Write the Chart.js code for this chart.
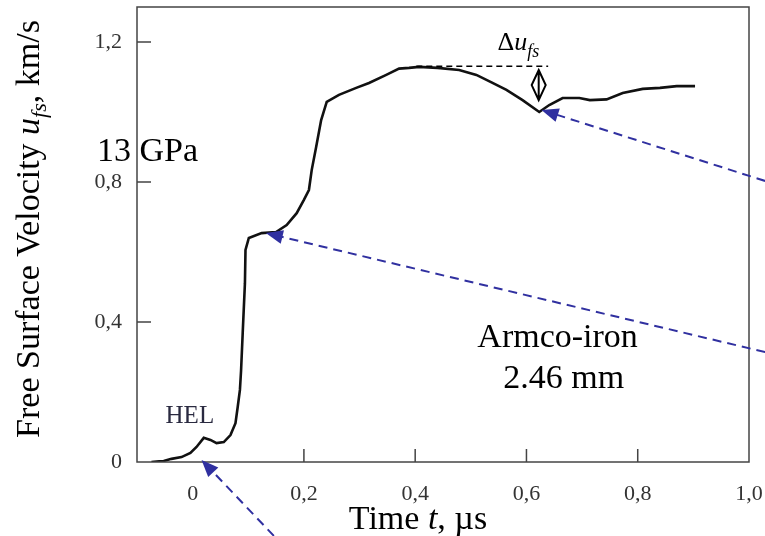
<!DOCTYPE html>
<html>
<head>
<meta charset="utf-8">
<script src="https://cdn.jsdelivr.net/npm/chart.js@4"></script>
<style>
  html, body { margin: 0; padding: 0; background: #fff; }
  #wrap { width: 765px; height: 536px; position: relative; }
</style>
</head>
<body>
<div id="wrap"><canvas id="chart"></canvas></div>
<script>
// Data
const timeValues = [
  -0.074, -0.060, -0.052, -0.038, -0.020, -0.004, 0.007, 0.020, 0.032, 0.043,
  0.056, 0.068, 0.077, 0.081, 0.085, 0.087, 0.090, 0.094, 0.095, 0.101,
  0.124, 0.150, 0.169, 0.187, 0.200, 0.209, 0.214, 0.222, 0.231, 0.241,
  0.263, 0.294, 0.317, 0.348, 0.371, 0.389, 0.407, 0.440, 0.479, 0.510,
  0.539, 0.564, 0.593, 0.623, 0.641, 0.665, 0.695, 0.714, 0.744, 0.773,
  0.809, 0.840, 0.870, 0.903
];
const velocityValues = [
  0.000, 0.002, 0.003, 0.009, 0.014, 0.026, 0.043, 0.069, 0.063, 0.054,
  0.057, 0.077, 0.111, 0.157, 0.206, 0.260, 0.369, 0.511, 0.606, 0.640,
  0.654, 0.657, 0.677, 0.711, 0.749, 0.777, 0.834, 0.900, 0.977, 1.029,
  1.049, 1.069, 1.083, 1.106, 1.124, 1.126, 1.129, 1.126, 1.120, 1.106,
  1.083, 1.063, 1.034, 1.000, 1.020, 1.040, 1.040, 1.034, 1.036, 1.054,
  1.066, 1.069, 1.074, 1.074
];
const xTickValues = [0, 0.2, 0.4, 0.6, 0.8, 1.0];
const yTickValues = [0, 0.4, 0.8, 1.2];
const xInnerTicks = [0.2, 0.4, 0.6, 0.8];
const yInnerTicks = [0.4, 0.8, 1.2];

// Annotation anchors (data units)
const blueArrows = [
  { from: [1.029, 0.803], to: [0.627, 1.006] },
  { from: [1.029, 0.314], to: [0.1315, 0.654] },
  { from: [0.146, -0.211], to: [0.016, 0.006] }
];
const deltaLevel = 1.131;
const deltaLine = [0.402, 0.639];
const deltaArrow = { x: 0.622, top: 1.12, bottom: 1.034 };

const SERIF = '"Liberation Serif", "DejaVu Serif", serif';

function fmt(v) {
  if (v === 0) return '0';
  return v.toFixed(1).replace('.', ',');
}

function drawArrowHead(ctx, x1, y1, x2, y2, len, half) {
  const a = Math.atan2(y2 - y1, x2 - x1);
  ctx.beginPath();
  ctx.moveTo(x2, y2);
  ctx.lineTo(x2 - len * Math.cos(a) + half * Math.sin(a), y2 - len * Math.sin(a) - half * Math.cos(a));
  ctx.lineTo(x2 - len * Math.cos(a) - half * Math.sin(a), y2 - len * Math.sin(a) + half * Math.cos(a));
  ctx.closePath();
  ctx.fill();
}

const decorPlugin = {
  id: 'decor',
  afterDraw(chart) {
    const ctx = chart.ctx;
    const xs = chart.scales.x, ys = chart.scales.y;
    const a = chart.chartArea;
    ctx.save();

    // frame
    ctx.strokeStyle = '#444';
    ctx.lineWidth = 1.5;
    ctx.strokeRect(a.left, a.top, a.right - a.left, a.bottom - a.top);

    // inward ticks
    ctx.beginPath();
    xInnerTicks.forEach(v => {
      const px = xs.getPixelForValue(v);
      ctx.moveTo(px, a.bottom);
      ctx.lineTo(px, a.bottom - 13);
    });
    yInnerTicks.forEach(v => {
      const py = ys.getPixelForValue(v);
      ctx.moveTo(a.left, py);
      ctx.lineTo(a.left + 14, py);
    });
    ctx.stroke();

    // y title with subscript
    ctx.fillStyle = '#000';
    ctx.save();
    ctx.translate(39, 229);
    ctx.rotate(-Math.PI / 2);
    const parts = [
      { t: 'Free Surface Velocity ', f: '34px ' + SERIF, dy: 0 },
      { t: 'u', f: 'italic 34px ' + SERIF, dy: 0 },
      { t: 'fs', f: 'italic 22px ' + SERIF, dy: 7 },
      { t: ', km/s', f: '34px ' + SERIF, dy: 0 }
    ];
    let total = 0;
    parts.forEach(p => { ctx.font = p.f; total += ctx.measureText(p.t).width; });
    let cx = -total / 2;
    ctx.textBaseline = 'alphabetic';
    ctx.textAlign = 'left';
    parts.forEach(p => {
      ctx.font = p.f;
      ctx.fillText(p.t, cx, p.dy);
      cx += ctx.measureText(p.t).width;
    });
    ctx.restore();

    // x title
    const xparts = [
      { t: 'Time ', f: '34px ' + SERIF },
      { t: 't', f: 'italic 34px ' + SERIF },
      { t: ', \u00b5s', f: '34px ' + SERIF }
    ];
    let xt = 0;
    xparts.forEach(p => { ctx.font = p.f; xt += ctx.measureText(p.t).width; });
    let xx = 418 - xt / 2;
    xparts.forEach(p => {
      ctx.font = p.f;
      ctx.fillText(p.t, xx, 529);
      xx += ctx.measureText(p.t).width;
    });

    // text labels
    ctx.textAlign = 'center';
    ctx.textBaseline = 'middle';
    ctx.font = '34px ' + SERIF;
    ctx.fillText('13 GPa', xs.getPixelForValue(-0.081), ys.getPixelForValue(0.886));
    ctx.fillText('Armco-iron', xs.getPixelForValue(0.656), ys.getPixelForValue(0.354));
    ctx.fillText('2.46 mm', xs.getPixelForValue(0.667), ys.getPixelForValue(0.237));
    ctx.fillStyle = '#2a2a40';
    ctx.font = '25px ' + SERIF;
    ctx.fillText('HEL', xs.getPixelForValue(-0.005), ys.getPixelForValue(0.129));

    // delta u label
    ctx.fillStyle = '#000';
    ctx.textAlign = 'left';
    ctx.textBaseline = 'alphabetic';
    let dx = xs.getPixelForValue(0.548);
    const dBase = ys.getPixelForValue(1.177);
    ctx.font = '26px ' + SERIF;
    ctx.fillText('\u0394', dx, dBase);
    dx += ctx.measureText('\u0394').width;
    ctx.font = 'italic 26px ' + SERIF;
    ctx.fillText('u', dx, dBase);
    dx += ctx.measureText('u').width;
    ctx.font = 'italic 18px ' + SERIF;
    ctx.fillText('fs', dx, dBase + 7);

    // dashed level line
    ctx.strokeStyle = '#000';
    ctx.lineWidth = 1.5;
    ctx.setLineDash([6, 4]);
    ctx.beginPath();
    ctx.moveTo(xs.getPixelForValue(deltaLine[0]), ys.getPixelForValue(deltaLevel));
    ctx.lineTo(xs.getPixelForValue(deltaLine[1]), ys.getPixelForValue(deltaLevel));
    ctx.stroke();
    ctx.setLineDash([]);

    // double arrow (diamond)
    const ax = xs.getPixelForValue(deltaArrow.x);
    const at = ys.getPixelForValue(deltaArrow.top);
    const ab = ys.getPixelForValue(deltaArrow.bottom);
    const am = (at + ab) / 2;
    ctx.lineWidth = 2;
    ctx.beginPath();
    ctx.moveTo(ax, at); ctx.lineTo(ax, ab);
    ctx.moveTo(ax, at); ctx.lineTo(ax + 7, am); ctx.lineTo(ax, ab); ctx.lineTo(ax - 7, am); ctx.closePath();
    ctx.stroke();

    // blue dashed arrows
    ctx.strokeStyle = '#3030a0';
    ctx.fillStyle = '#3030a0';
    ctx.lineWidth = 2;
    blueArrows.forEach(ar => {
      const x1 = xs.getPixelForValue(ar.from[0]), y1 = ys.getPixelForValue(ar.from[1]);
      const x2 = xs.getPixelForValue(ar.to[0]), y2 = ys.getPixelForValue(ar.to[1]);
      const ang = Math.atan2(y2 - y1, x2 - x1);
      ctx.setLineDash([9, 6]);
      ctx.beginPath();
      ctx.moveTo(x1, y1);
      ctx.lineTo(x2 - 14 * Math.cos(ang), y2 - 14 * Math.sin(ang));
      ctx.stroke();
      ctx.setLineDash([]);
      drawArrowHead(ctx, x1, y1, x2, y2, 17, 7);
    });

    ctx.restore();
  }
};

const points = timeValues.map((t, i) => ({ x: t, y: velocityValues[i] }));

new Chart(document.getElementById('chart'), {
  type: 'scatter',
  data: {
    datasets: [{
      data: points,
      showLine: true,
      borderColor: '#111',
      borderWidth: 2.6,
      pointRadius: 0,
      tension: 0
    }]
  },
  options: {
    responsive: true,
    maintainAspectRatio: false,
    animation: false,
    layout: { padding: { top: 7, right: 16, left: 0, bottom: 0 } },
    plugins: { legend: { display: false }, tooltip: { enabled: false } },
    scales: {
      x: {
        type: 'linear',
        min: -0.1,
        max: 1.0,
        afterBuildTicks: s => { s.ticks = xTickValues.map(v => ({ value: v })); },
        afterFit: s => { s.height = 74; s.paddingLeft = 0; s.paddingRight = 0; },
        grid: { display: false, drawTicks: false },
        border: { display: false },
        ticks: {
          padding: 19,
          color: '#333',
          font: { family: SERIF, size: 22 },
          maxRotation: 0,
          callback: v => fmt(v)
        }
      },
      y: {
        min: 0,
        max: 1.3,
        afterBuildTicks: s => { s.ticks = yTickValues.map(v => ({ value: v })); },
        afterFit: s => { s.width = 137; s.paddingTop = 0; s.paddingBottom = 0; },
        grid: { display: false, drawTicks: false },
        border: { display: false },
        ticks: {
          padding: 15,
          color: '#333',
          font: { family: SERIF, size: 22 },
          callback: v => fmt(v)
        }
      }
    }
  },
  plugins: [decorPlugin]
});
</script>
</body>
</html>
